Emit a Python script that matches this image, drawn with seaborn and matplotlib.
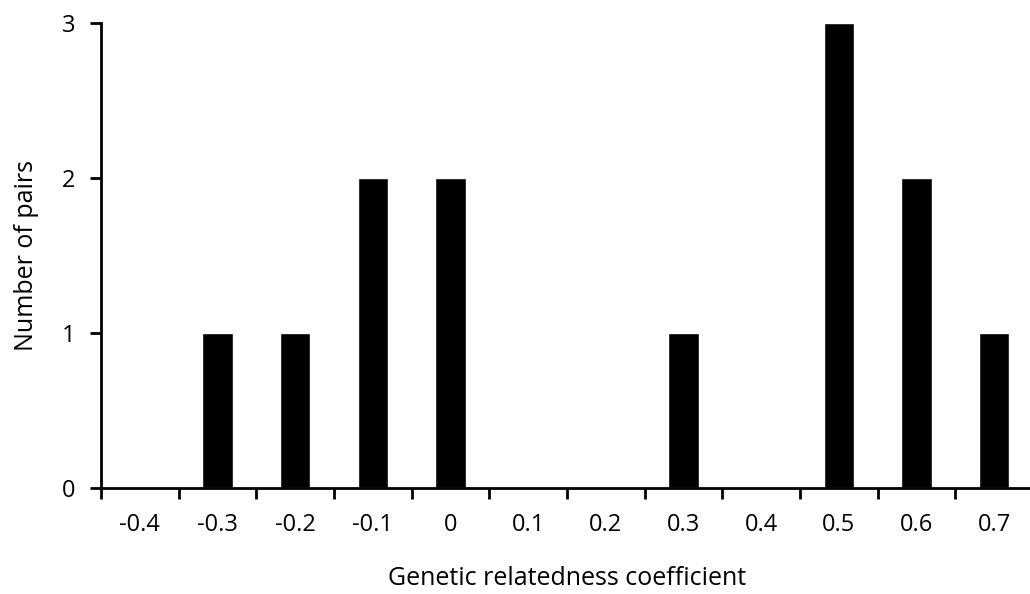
import matplotlib
matplotlib.use("Agg")
import matplotlib.pyplot as plt
import seaborn as sns
import pandas as pd
import numpy as np
from matplotlib.ticker import FixedLocator

categories = ["-0.4", "-0.3", "-0.2", "-0.1", "0", "0.1", "0.2", "0.3", "0.4", "0.5", "0.6", "0.7"]
counts = [0, 1, 1, 2, 2, 0, 0, 1, 0, 3, 2, 1]
y_ticks = [0, 1, 2, 3]

sns.set_theme(style="white")
plt.rcParams['font.family'] = ['Open Sans', 'DejaVu Sans']

df = pd.DataFrame({"coef": categories, "n": counts})

fig = plt.figure(figsize=(10.3, 5.94), dpi=100)
ax = fig.add_axes([0.098, 0.1785, 0.905, 0.7828])

sns.barplot(data=df, x="coef", y="n", order=categories, color="black",
            width=0.39, ax=ax, saturation=1)

ax.set_xlim(-0.5, len(categories) - 0.5)
ax.set_ylim(0, 3)
ax.set_yticks(y_ticks)
ax.set_yticklabels([str(v) for v in y_ticks])

ax.xaxis.set_minor_locator(FixedLocator(np.arange(-0.5, len(categories), 1.0)))
ax.tick_params(axis="x", which="major", length=0, pad=18, labelsize=17)
ax.tick_params(axis="x", which="minor", length=8, width=2, direction="out", color="black", bottom=True)
ax.tick_params(axis="y", which="major", length=8, width=2, direction="out", color="black", left=True, labelsize=17, pad=10.5)

for s in ["top", "right"]:
    ax.spines[s].set_visible(False)
for s in ["left", "bottom"]:
    ax.spines[s].set_color("black")
    ax.spines[s].set_linewidth(2)

ax.set_xlabel("Genetic relatedness coefficient", fontsize=18, labelpad=21, color="black")
ax.set_ylabel("Number of pairs", fontsize=18, labelpad=16.5, color="black")
for lab in ax.get_xticklabels() + ax.get_yticklabels():
    lab.set_color("black")

fig.savefig("out.png", dpi=100)
